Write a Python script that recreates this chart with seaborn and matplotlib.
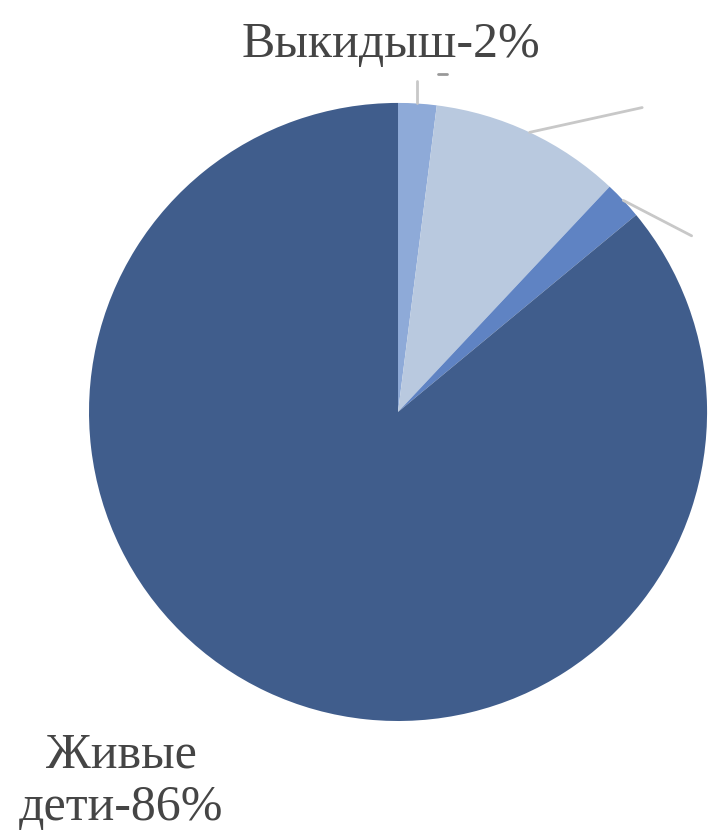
import numpy as np
import matplotlib
matplotlib.use("Agg")
import matplotlib.pyplot as plt
import seaborn as sns

# data (clockwise from 12 o'clock)
categories = ["Выкидыш", "Прочее-1", "Прочее-2", "Живые дети"]
shares = [2, 10, 2, 86]
colors = ["#8eaad8", "#b9c9df", "#5f83c3", "#405d8c"]

sns.set_theme(style="white")
plt.rcParams["font.family"] = ["Liberation Serif", "DejaVu Serif"]

fig = plt.figure(figsize=(7.25, 8.4), dpi=100)
ax = fig.add_axes([0, 0, 1, 1])

wedges, _ = ax.pie(shares, colors=colors, startangle=90, counterclock=False,
                   radius=1.0, wedgeprops=dict(linewidth=0))

ax.set_xlim(-1.288, 1.058)
ax.set_ylim(-1.385, 1.333)
ax.set_aspect("equal")
ax.axis("off")

# leader lines from wedge middles (labels of slices 2 and 3 are cut off in the source)
line_ends = [(None, 1.07), (0.79, 0.985), (0.95, 0.57)]
for w, end in zip(wedges[:3], line_ends):
    ang = np.deg2rad((w.theta1 + w.theta2) / 2)
    x0, y0 = np.cos(ang), np.sin(ang)
    if end[0] is None:
        ax.plot([x0, x0], [1.0, end[1]], color="#c8c8c8", lw=2)
    else:
        ax.plot([x0, end[0]], [y0, end[1]], color="#c8c8c8", lw=2)
ax.plot([0.13, 0.16], [1.094, 1.094], color="#999999", lw=2)

txt = dict(ha="center", va="baseline", fontsize=36, color="#454545")
ax.text(-0.023, 1.149, f"{categories[0]}-{shares[0]}%", **txt)
ax.text(-0.896, -1.149, "Живые", **txt)
ax.text(-0.896, -1.320, f"дети-{shares[3]}%", **txt)

fig.savefig("out.png", dpi=100, facecolor="white")
